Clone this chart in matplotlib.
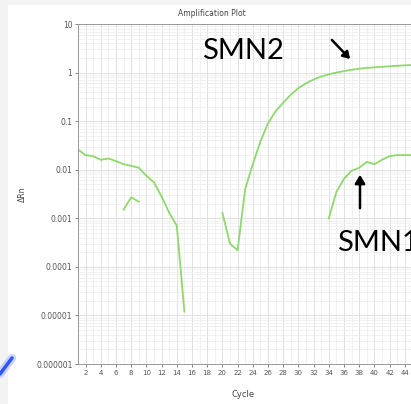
import matplotlib.pyplot as plt
import matplotlib.ticker as mticker
from matplotlib.lines import Line2D
from matplotlib.patches import Rectangle

# baseline trace that falls off before cycle 15
early_cycles = [1, 2, 3, 4, 5, 6, 7, 8, 9, 10, 11, 12, 13, 14, 15]
early_rn = [0.026, 0.020, 0.019, 0.016, 0.017, 0.015, 0.013, 0.012, 0.011,
            0.0075, 0.0055, 0.0028, 0.0013, 0.0007, 0.000012]

# short fragment around cycle 8
frag_cycles = [7, 8, 9]
frag_rn = [0.0015, 0.0027, 0.0022]

# SMN2 amplification
smn2_cycles = list(range(20, 46))
smn2_rn = [0.0013, 0.0003, 0.00022, 0.004, 0.013, 0.038, 0.09, 0.16, 0.24,
           0.35, 0.48, 0.6, 0.72, 0.83, 0.92, 1.0, 1.07, 1.14, 1.2, 1.25,
           1.28, 1.31, 1.35, 1.38, 1.41, 1.43]

# SMN1 amplification
smn1_cycles = list(range(34, 46))
smn1_rn = [0.001, 0.0035, 0.0065, 0.0095, 0.011, 0.0145, 0.013, 0.016,
           0.019, 0.020, 0.020, 0.020]

y_ticks = [10, 1, 0.1, 0.01, 0.001, 0.0001, 0.00001, 0.000001]
y_labels = ['10', '1', '0.1', '0.01', '0.001', '0.0001', '0.00001', '0.000001']
x_ticks = list(range(2, 48, 2))

W, H = 411, 404
fig = plt.figure(figsize=(W / 100, H / 100), dpi=100, facecolor='#f3f3f3')
fig.patches.append(Rectangle((8 / W, 0), 1, 1 - 5 / H, transform=fig.transFigure,
                             facecolor='white', edgecolor='none', zorder=-1))

ax = fig.add_axes([78 / W, 40 / H, 342 / W, 340 / H])
green = '#8fd86c'
ax.plot(early_cycles, early_rn, color=green, lw=1.3)
ax.plot(frag_cycles, frag_rn, color=green, lw=1.3)
ax.plot(smn2_cycles, smn2_rn, color=green, lw=1.3)
ax.plot(smn1_cycles, smn1_rn, color=green, lw=1.3)

ax.set_yscale('log')
ax.set_ylim(0.000001, 10)
ax.set_xlim(1, 46)
ax.set_yticks(y_ticks)
ax.set_yticklabels(y_labels)
ax.set_xticks(x_ticks)
ax.xaxis.set_minor_locator(mticker.MultipleLocator(1))
ax.yaxis.set_minor_locator(mticker.LogLocator(base=10, subs=range(2, 10)))
ax.yaxis.set_minor_formatter(mticker.NullFormatter())
ax.tick_params(axis='both', which='major', labelsize=5, colors='#555555',
               length=2, width=0.5, pad=2)
ax.tick_params(axis='y', labelsize=5.5)
ax.tick_params(which='minor', length=0)
ax.grid(which='major', color='#dcdcdc', lw=0.6)
ax.grid(which='minor', color='#ececec', lw=0.5)
ax.set_axisbelow(True)
for s in ax.spines.values():
    s.set_color('#999999')
    s.set_linewidth(0.7)

ax.set_xlabel('Cycle', fontsize=6, color='#444444', labelpad=6)
ax.xaxis.set_label_coords((243 - 78) / 342, -26 / 340)
ax.set_ylabel('ΔRn', fontsize=5.5, color='#444444')
ax.yaxis.set_label_coords(-51 / 342, 0.5)
fig.text(212 / W, 1 - 14 / H, 'Amplification Plot', fontsize=5.5, color='#444444',
         ha='center', va='center')

# annotations
fig.text(243 / W, 1 - 51 / H, 'SMN2', fontsize=21, family='Lato', ha='center', va='center')
fig.text(337 / W, 1 - 243 / H, 'SMN1', fontsize=21, family='Lato', ha='left', va='center')
fig.patches.append(plt.matplotlib.patches.FancyArrowPatch(
    (330 / W, 1 - 38 / H), (352 / W, 1 - 61 / H), transform=fig.transFigure,
    arrowstyle='-|>,head_length=4,head_width=2.5', color='black', lw=1.8))
fig.patches.append(plt.matplotlib.patches.FancyArrowPatch(
    (360 / W, 1 - 211 / H), (360 / W, 1 - 172 / H), transform=fig.transFigure,
    arrowstyle='-|>,head_length=5,head_width=3', color='black', lw=1.8))

# blue slide decoration at lower left
fig.lines.append(Line2D([0, 12 / W], [1 - 374 / H, 1 - 358 / H], transform=fig.transFigure,
                        color='#a8b8ff', lw=6, alpha=0.6, solid_capstyle='round'))
fig.lines.append(Line2D([0, 12 / W], [1 - 374 / H, 1 - 358 / H], transform=fig.transFigure,
                        color='#2f55ff', lw=2.5, solid_capstyle='round'))

fig.savefig('out.png', dpi=100, facecolor=fig.get_facecolor())
